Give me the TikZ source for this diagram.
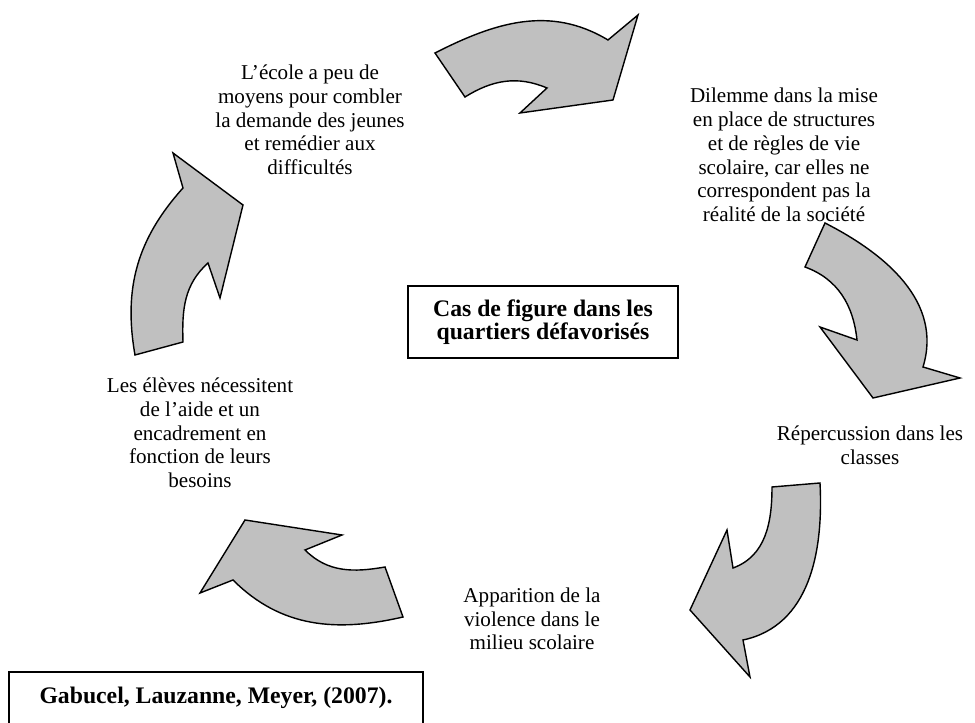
\documentclass[tikz,border=0pt]{standalone}
\usepackage{fontspec}
\setmainfont{Liberation Serif}
\usepackage{tikz}
\usepackage{color}
\definecolor{arrowgray}{RGB}{192,192,192}
\tikzset{ arr/.style ={draw=black, fill=arrowgray, line width=0.8pt, line join=miter} }
\tikzset{ txt/.style ={align=center, inner sep=0pt, font=\fontsize{12}{13.5}\selectfont} }
\tikzset{ cbox/.style={draw=black, line width=1.2pt, align=center, inner sep=0pt, minimum width=5.40cm, minimum height=1.44cm, font=\fontsize{13.5}{13}\selectfont\bfseries} }
\tikzset{ src/.style ={draw=black, line width=0.6pt, inner sep=0pt, minimum width=8.28cm, minimum height=1.04cm, font=\fontsize{13.5}{15}\selectfont\bfseries} }

\begin{document}
\begin{tikzpicture}
    \useasboundingbox (0,0) rectangle (19.5,14.46);
    \clip (0,0) rectangle (19.5,14.46);

    \node[txt] (t_n0) at ( 6.20, 12.06) {L’école a peu de\\moyens pour combler\\la demande des jeunes\\et remédier aux\\difficultés};
    \node[txt] (t_n1) at (15.68, 11.36) {Dilemme dans la mise\\en place de structures\\et de règles de vie\\scolaire, car elles ne\\correspondent pas la\\réalité de la société};
    \node[txt] (t_n2) at (17.40,  5.56) {Répercussion dans les\\classes};
    \node[txt] (t_n3) at (10.64,  2.08) {Apparition de la\\violence dans le\\milieu scolaire};
    \node[txt] (t_n4) at ( 4.00,  5.80) {Les élèves nécessitent\\de l’aide et un\\encadrement en\\fonction de leurs\\besoins};

    \node[cbox] (c_n0) at (10.86,  8.02) {Cas de figure dans les\\quartiers défavorisés};
    \node[src ] (s_n0) at ( 4.32,  0.50) {Gabucel, Lauzanne, Meyer, (2007).};

    % cycle arrows, clockwise from the top
    \draw[arr] ( 8.70,13.40) to[out=27,in=149] (12.16,13.66) -- (12.76,14.16) -- (12.26,12.46)
               -- (10.40,12.20) -- (10.94,12.70) to[out=157,in=32] ( 9.30,12.52) -- cycle;
    \draw[arr] (16.50,10.00) to[out=-27,in=73] (18.46, 7.12) -- (19.20, 6.90) -- (17.46, 6.50)
               -- (16.40, 7.92) -- (17.14, 7.66) to[out=96,in=-20] (16.10, 9.12) -- cycle;
    \draw[arr] (15.44, 4.72) -- (16.40, 4.80) to[out=-87,in=12] (14.86, 1.66) -- (15.00, 0.92)
               -- (13.80, 2.26) -- (14.54, 3.86) -- (14.66, 3.10) to[out=20,in=-90] (15.44, 4.72) -- cycle;
    \draw[arr] ( 7.70, 3.12) -- ( 8.06, 2.12) to[out=-167,in=-45] ( 4.66, 2.86) -- ( 4.00, 2.60)
               -- ( 4.90, 4.06) -- ( 6.84, 3.76) -- ( 6.10, 3.46) to[out=-45,in=-170] ( 7.70, 3.12) -- cycle;
    \draw[arr] ( 2.70, 7.36) to[out=100,in=-132] ( 3.66,10.70) -- ( 3.46,11.40) -- ( 4.86,10.36)
               -- ( 4.40, 8.50) -- ( 4.16, 9.20) to[out=-138,in=92] ( 3.66, 7.62) -- cycle;
\end{tikzpicture}
\end{document}
